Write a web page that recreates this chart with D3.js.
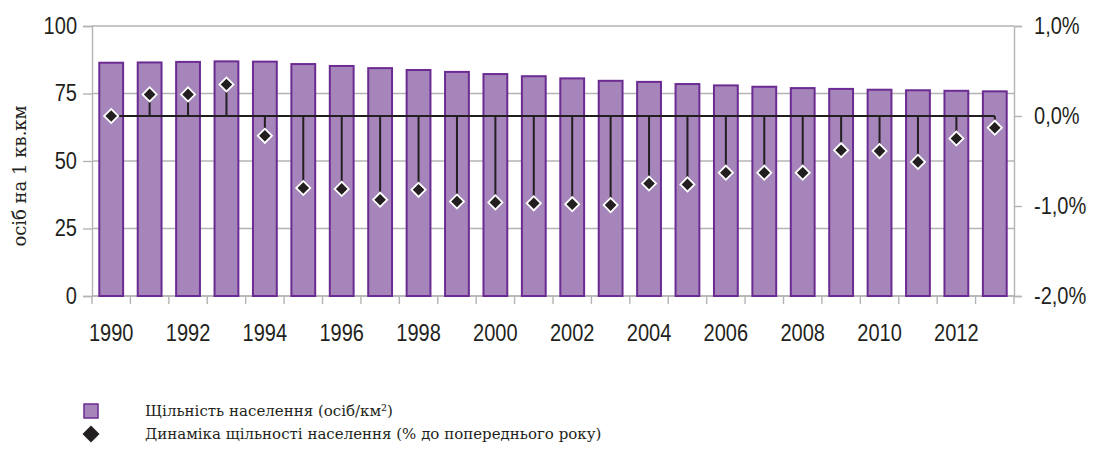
<!DOCTYPE html>
<html>
<head>
<meta charset="utf-8">
<script src="https://cdn.jsdelivr.net/npm/d3@7"></script>
<style>
  body { margin: 0; background: #fff; }
  .tick text { font-family: "Liberation Sans", Arial, sans-serif; font-size: 23px; fill: #231f20; }
</style>
</head>
<body>
<script>
'use-strict';

// years along the x axis
let years = d3.range(1990, 2014);

// population density, persons per sq.km
let density = [86.4, 86.5, 86.7, 86.9, 86.8, 85.9, 85.2, 84.4, 83.7, 83.0, 82.2, 81.4,
  80.6, 79.7, 79.3, 78.5, 78.0, 77.5, 77.0, 76.7, 76.4, 76.2, 76.0, 75.8];

// change of density, % to previous year
let change = [0.0, 0.24, 0.24, 0.35, -0.22, -0.80, -0.81, -0.93, -0.82, -0.95, -0.96, -0.97,
  -0.98, -0.99, -0.75, -0.76, -0.63, -0.63, -0.63, -0.38, -0.39, -0.51, -0.25, -0.13];

// tick values
let leftTicks = [0, 25, 50, 75, 100];
let rightTicks = [-2, -1, 0, 1];

let legendLabels = ["Щільність населення (осіб/км²)", "Динаміка щільності населення (% до попереднього року)"];

let width = 1093, height = 457;
let plot = { left: 92, right: 1014, top: 26, bottom: 296 };

let barFill = "#a585ba", barStroke = "#6c2b92", ink = "#231f20", gridColor = "#b4b4b4";

let svg = d3.select("body").append("svg")
  .attr("width", width)
  .attr("height", height);

let xScale = d3.scaleBand()
  .domain(years)
  .range([plot.left, plot.right])
  .paddingInner(0.38)
  .paddingOuter(0.19);

let yLeft = d3.scaleLinear().domain([0, 100]).range([plot.bottom, plot.top]);
let yRight = d3.scaleLinear().domain([-2, 1]).range([plot.bottom, plot.top]);

let cx = (year) => xScale(year) + xScale.bandwidth() / 2;

// horizontal gridlines
svg.append("g")
  .selectAll("line")
  .data(leftTicks)
  .enter()
  .append("line")
  .attr("x1", plot.left)
  .attr("x2", plot.right)
  .attr("y1", d => yLeft(d))
  .attr("y2", d => yLeft(d))
  .attr("stroke", gridColor)
  .attr("stroke-width", 1.4);

// left axis
let leftAxis = svg.append("g")
  .attr("transform", "translate(" + plot.left + ",0)")
  .call(d3.axisLeft(yLeft).tickValues(leftTicks).tickSize(9).tickPadding(6));

// right axis, plain hyphen for negatives
let rightAxis = svg.append("g")
  .attr("transform", "translate(" + plot.right + ",0)")
  .call(d3.axisRight(yRight).tickValues(rightTicks).tickSize(8).tickPadding(12)
    .tickFormat(d => d.toFixed(1).replace(".", ",") + "%"));

// bottom axis: ticks on band edges, labels every second year
let bottom = svg.append("g")
  .attr("transform", "translate(0," + plot.bottom + ")");
bottom.append("line")
  .attr("x1", plot.left).attr("x2", plot.right)
  .attr("stroke", gridColor).attr("stroke-width", 1.4);
let step = xScale.step();
bottom.selectAll(".edge")
  .data(d3.range(years.length + 1))
  .enter()
  .append("line")
  .attr("class", "edge")
  .attr("x1", i => plot.left + i * step)
  .attr("x2", i => plot.left + i * step)
  .attr("y1", 0).attr("y2", 8)
  .attr("stroke", gridColor).attr("stroke-width", 1.4);
bottom.selectAll(".tick")
  .data(years.filter(y => y % 2 == 0))
  .enter()
  .append("g")
  .attr("class", "tick")
  .append("text")
  .attr("x", d => cx(d))
  .attr("y", 45)
  .attr("text-anchor", "middle")
  .text(d => d);

[leftAxis, rightAxis].forEach(a => {
  a.select(".domain").attr("stroke", gridColor).attr("stroke-width", 1.4);
  a.selectAll(".tick line").attr("stroke", gridColor).attr("stroke-width", 1.4);
});

// squeeze the tick labels to look like a condensed face
svg.selectAll(".tick text").each(function () {
  let len = this.getComputedTextLength();
  d3.select(this)
    .attr("textLength", len * 0.87)
    .attr("lengthAdjust", "spacingAndGlyphs");
});

// bars
svg.append("g")
  .selectAll("rect")
  .data(years)
  .enter()
  .append("rect")
  .attr("x", d => xScale(d))
  .attr("y", (d, i) => yLeft(density[i]))
  .attr("width", xScale.bandwidth())
  .attr("height", (d, i) => yLeft(0) - yLeft(density[i]))
  .attr("fill", barFill)
  .attr("stroke", barStroke)
  .attr("stroke-width", 2);

// zero line for the change series
svg.append("line")
  .attr("x1", cx(years[0]))
  .attr("x2", cx(years[years.length - 1]))
  .attr("y1", yRight(0))
  .attr("y2", yRight(0))
  .attr("stroke", ink)
  .attr("stroke-width", 2);

// drop lines
svg.append("g")
  .selectAll("line")
  .data(years)
  .enter()
  .append("line")
  .attr("x1", d => cx(d))
  .attr("x2", d => cx(d))
  .attr("y1", yRight(0))
  .attr("y2", (d, i) => yRight(change[i]))
  .attr("stroke", ink)
  .attr("stroke-width", 2);

// diamonds
svg.append("g")
  .selectAll("rect")
  .data(years)
  .enter()
  .append("rect")
  .attr("x", -5)
  .attr("y", -5)
  .attr("width", 10)
  .attr("height", 10)
  .attr("transform", (d, i) => "translate(" + cx(d) + "," + yRight(change[i]) + ") rotate(45)")
  .attr("fill", ink)
  .attr("stroke", "#fff")
  .attr("stroke-width", 1.8);

// y axis title
svg.append("text")
  .attr("transform", "translate(26,176) rotate(-90)")
  .attr("text-anchor", "middle")
  .style("font-family", "DejaVu Serif, serif")
  .style("font-size", "18px")
  .attr("fill", ink)
  .text("осіб на 1 кв.км");

// legend
let legend = svg.append("g").attr("transform", "translate(91,0)");
legend.append("rect")
  .attr("x", -7).attr("y", 404)
  .attr("width", 14).attr("height", 14)
  .attr("fill", barFill)
  .attr("stroke", barStroke)
  .attr("stroke-width", 1.5);
legend.append("rect")
  .attr("x", -6).attr("y", -6)
  .attr("width", 12).attr("height", 12)
  .attr("transform", "translate(0,434) rotate(45)")
  .attr("fill", ink);
legend.selectAll("text")
  .data(legendLabels)
  .enter()
  .append("text")
  .attr("x", 54)
  .attr("y", (d, i) => 416 + i * 23)
  .style("font-family", "DejaVu Serif, serif")
  .style("font-size", "15px")
  .attr("fill", ink)
  .text(d => d);
</script>
</body>
</html>
